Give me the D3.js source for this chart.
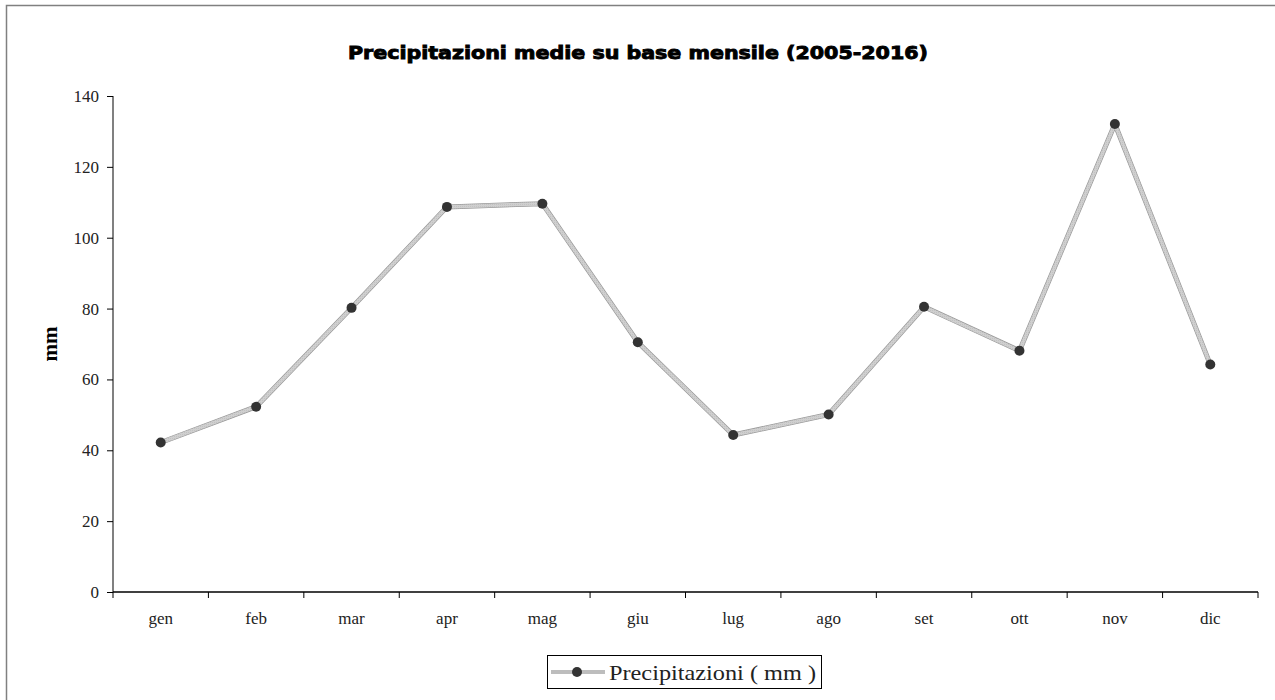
<!DOCTYPE html>
<html><head><meta charset="utf-8">
<script src="https://cdn.jsdelivr.net/npm/d3@7"></script>
<style>body{margin:0;background:#fff}svg{display:block}</style>
</head><body>
<svg id="c" width="1275" height="700"></svg>
<script>
const months = ["gen","feb","mar","apr","mag","giu","lug","ago","set","ott","nov","dic"];
const precip = [42.2, 52.3, 80.2, 108.7, 109.6, 70.5, 44.3, 50.1, 80.5, 68.1, 132.1, 64.2];
const yTicks = [0,20,40,60,80,100,120,140];
const title = "Precipitazioni medie su base mensile (2005-2016)";
const yLabel = "mm";
const seriesName = "Precipitazioni  ( mm )";

const svg = d3.select("#c");
const m = {left:113, right:1258, top:96, bottom:592};

// outer frame
svg.append("rect").attr("x",6.5).attr("y",5.5).attr("width",1300).attr("height",720)
  .attr("fill","none").attr("stroke","#808080").attr("stroke-width",1.5);

const x = d3.scaleBand().domain(months).range([m.left, m.right]);
const y = d3.scaleLinear().domain([0,140]).range([m.bottom, m.top]);

const defs = svg.append("defs");
const pat = defs.append("pattern").attr("id","hatch").attr("patternUnits","userSpaceOnUse")
  .attr("width",2).attr("height",2);
pat.append("rect").attr("width",2).attr("height",2).attr("fill","#c8c8c8");
pat.append("rect").attr("width",1).attr("height",1).attr("fill","#a8a8a8");

// title
svg.append("text").attr("x",638).attr("y",59).attr("text-anchor","middle")
  .attr("font-family","DejaVu Sans").attr("font-weight","bold").attr("font-size",17.5)
  .attr("stroke","#000").attr("stroke-width",0.9)
  .attr("textLength",580).attr("lengthAdjust","spacingAndGlyphs")
  .text(title);

// y axis
const yAxis = svg.append("g").attr("transform",`translate(${m.left},0)`)
  .call(d3.axisLeft(y).tickValues(yTicks).tickSize(6).tickPadding(8));
yAxis.select(".domain").attr("stroke","#808080").attr("stroke-width",2).attr("d",`M0,${m.top}V${m.bottom}`);
yAxis.selectAll(".tick line").attr("stroke","#000");
yAxis.selectAll("text").attr("font-family","Liberation Serif").attr("font-size",17).attr("fill","#222");

// x axis
const xAxis = svg.append("g").attr("transform",`translate(0,${m.bottom})`)
  .call(d3.axisBottom(x).tickSize(0).tickPadding(20));
xAxis.select(".domain").attr("stroke","#000").attr("stroke-width",1.5).attr("d",`M${m.left},0H${m.right}`);
xAxis.selectAll("text").attr("font-family","Liberation Serif").attr("font-size",17).attr("fill","#222");
const bounds = months.map(d=>x(d)).concat([m.right]);
xAxis.selectAll(".bt").data(bounds).enter().append("line").attr("class","bt")
  .attr("x1",d=>d).attr("x2",d=>d).attr("y1",0).attr("y2",6).attr("stroke","#000");

// y label
svg.append("text").attr("transform","translate(57,344) rotate(-90)").attr("text-anchor","middle")
  .attr("font-family","Liberation Serif").attr("font-weight","bold").attr("font-size",21)
  .text(yLabel);

// line
const line = d3.line().x((d,i)=>x(months[i])+x.bandwidth()/2).y(d=>y(d));
svg.append("path").attr("d",line(precip)).attr("fill","none").attr("stroke","#9a9a9a")
  .attr("stroke-width",5).attr("stroke-linejoin","round");
svg.append("path").attr("d",line(precip)).attr("fill","none").attr("stroke","url(#hatch)")
  .attr("stroke-width",3.5).attr("stroke-linejoin","round");
svg.append("path").attr("d",line(precip)).attr("fill","none").attr("stroke","#d4d4d4")
  .attr("stroke-width",3.5).attr("stroke-linejoin","round").attr("opacity",0.6);

svg.selectAll(".pt").data(precip).enter().append("circle").attr("class","pt")
  .attr("cx",(d,i)=>x(months[i])+x.bandwidth()/2).attr("cy",d=>y(d)).attr("r",5)
  .attr("fill","#333");

// legend
const lg = svg.append("g");
lg.append("rect").attr("x",547.5).attr("y",655.5).attr("width",274).attr("height",33)
  .attr("fill","#fff").attr("stroke","#000").attr("stroke-width",1);
lg.append("line").attr("x1",551).attr("x2",605).attr("y1",672).attr("y2",672)
  .attr("stroke","#bdbdbd").attr("stroke-width",4);
lg.append("circle").attr("cx",577).attr("cy",672).attr("r",5).attr("fill","#333");
lg.append("text").attr("x",609).attr("y",680).attr("font-family","Liberation Serif")
  .attr("font-size",22).attr("fill","#222")
  .attr("textLength",207).attr("lengthAdjust","spacingAndGlyphs").text(seriesName);
</script>
</body></html>
